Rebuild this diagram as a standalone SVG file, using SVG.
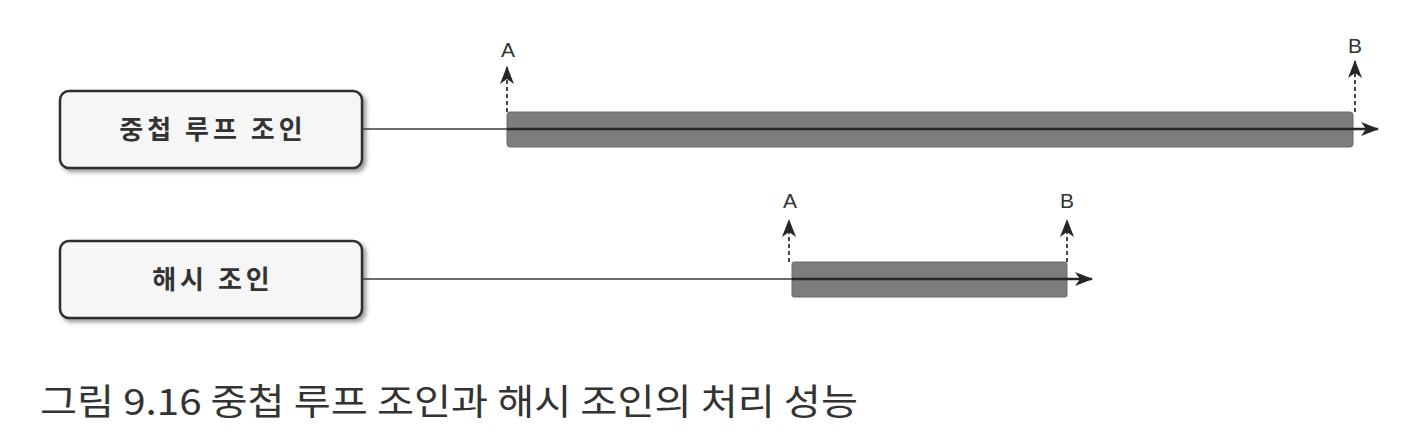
<svg xmlns="http://www.w3.org/2000/svg" width="1405" height="446" viewBox="0 0 1405 446">
<style>
.box{fill:#f6f6f6;stroke:#2e2e2e;stroke-width:2.5}
.lbl{font-family:"Noto Sans CJK KR","Noto Sans",sans-serif;font-weight:bold;font-size:26px;fill:#333;letter-spacing:4px;text-anchor:middle}
.ab{font-family:"Liberation Sans","DejaVu Sans",sans-serif;font-size:21px;fill:#333;text-anchor:middle}
.bar{fill:#7d7d7d;stroke:#6a6a6a;stroke-width:1}
.line{stroke:#3a3a3a;stroke-width:1.3;fill:none}
.inner{stroke:#262626;stroke-width:2.4;fill:none}
.dash{stroke:#333;stroke-width:1.8;stroke-dasharray:4 3;fill:none}
.cap{font-family:"Noto Sans CJK KR","Noto Sans",sans-serif;font-size:36px;fill:#333}
</style>
<defs>
<filter id="sh" x="-10%" y="-20%" width="130%" height="150%">
<feDropShadow dx="3" dy="3" stdDeviation="2" flood-color="#555" flood-opacity="0.6"/>
</filter>
<marker id="ah" viewBox="0 0 18 14" refX="17" refY="7" markerWidth="18" markerHeight="14" markerUnits="userSpaceOnUse" orient="auto">
<path d="M0,0 L18,7 L0,14 L5,7 Z" fill="#262626"/>
</marker>
</defs>

<g id="node-nested">
<rect class="box" x="60" y="91" width="302" height="77" rx="9" filter="url(#sh)"/>
<text class="lbl" x="213" y="139">중첩 루프 조인</text>
</g>
<g id="node-hash">
<rect class="box" x="60" y="241" width="302" height="77" rx="9" filter="url(#sh)"/>
<text class="lbl" x="213" y="289">해시 조인</text>
</g>

<g id="bars">
<rect class="bar" x="507" y="112" width="846" height="35" rx="3"/>
<rect class="bar" x="792" y="262" width="275" height="35" rx="2"/>
</g>

<g id="connectors">
<line class="line" x1="362" y1="129" x2="507" y2="129"/>
<line class="inner" x1="507" y1="129" x2="1378" y2="129" marker-end="url(#ah)"/>
<line class="line" x1="362" y1="279" x2="792" y2="279"/>
<line class="inner" x1="792" y1="279" x2="1092" y2="279" marker-end="url(#ah)"/>
<line class="dash" x1="507" y1="112" x2="507" y2="67" marker-end="url(#ah)"/>
<line class="dash" x1="1355" y1="112" x2="1355" y2="61" marker-end="url(#ah)"/>
<line class="dash" x1="789" y1="262" x2="789" y2="220" marker-end="url(#ah)"/>
<line class="dash" x1="1067" y1="262" x2="1067" y2="220" marker-end="url(#ah)"/>
</g>

<g id="labels">
<text class="ab" x="508" y="57">A</text>
<text class="ab" x="1355" y="53">B</text>
<text class="ab" x="790" y="208">A</text>
<text class="ab" x="1067" y="208">B</text>
</g>

<text class="cap" x="40" y="415" textLength="818" lengthAdjust="spacingAndGlyphs">그림 9.16 중첩 루프 조인과 해시 조인의 처리 성능</text>
</svg>
